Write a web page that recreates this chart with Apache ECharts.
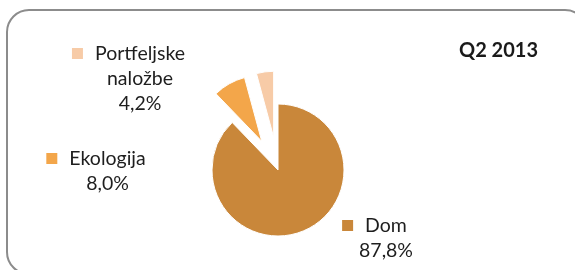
<!DOCTYPE html>
<html>
<head>
<meta charset="utf-8">
<script src="https://cdn.jsdelivr.net/npm/echarts@6/dist/echarts.min.js"></script>
<style>html,body{margin:0;padding:0;background:#fff}#c{width:575px;height:270px}</style>
</head>
<body>
<div id="c"></div>
<script>
const categories = ['Dom', 'Ekologija', 'Portfeljske naložbe'];
const values = [87.8, 8.0, 4.2];
const exploded = [false, true, true];
const colors = ['#C9873A', '#F3A64A', '#F7CBA7'];
const titleText = 'Q2 2013';

const FONT = 'Lato';
const labelPos = [[386, 213], [107.5, 146], [140, 41]];

function fmt(v) { return v.toFixed(1).replace('.', ',') + '%'; }

const sliceData = categories.map((name, i) => ({
  name: name,
  value: values[i],
  selected: exploded[i],
  itemStyle: { color: colors[i] }
}));

const labelData = categories.map((name, i) => {
  const words = name.split(' ');
  const first = '{m|}{g|}{t|' + words[0] + '}{g|}{h|}';
  const rest = words.slice(1).map(w => '{t|' + w + '}');
  const lines = [first].concat(rest).concat(['{t|' + fmt(values[i]) + '}']);
  return {
    name: name,
    value: values[i],
    label: {
      formatter: lines.join('\n'),
      rich: {
        m: { width: 11, height: 11, backgroundColor: colors[i], lineHeight: 25 },
        g: { width: 12, lineHeight: 25 },
        h: { width: 11, height: 11, lineHeight: 25 },
        t: { fontFamily: FONT, fontSize: 19.5, color: '#1e1e1e', lineHeight: 25 }
      }
    }
  };
});

const chart = echarts.init(document.getElementById('c'), null, { renderer: 'canvas' });
chart.setOption({
  animation: false,
  backgroundColor: '#fff',
  title: {
    text: titleText,
    right: 32,
    top: 36,
    textStyle: { fontFamily: FONT, fontWeight: 'bold', fontSize: 20, color: '#1a1a1a' }
  },
  graphic: [{
    type: 'rect',
    shape: { x: 7, y: 10, width: 580, height: 264, r: 22 },
    style: { fill: 'none', stroke: '#8c8c8c', lineWidth: 2 },
    silent: true
  }],
  series: [{
    type: 'pie',
    center: [278, 170],
    radius: 66,
    startAngle: 90,
    clockwise: true,
    selectedMode: 'multiple',
    selectedOffset: 33,
    itemStyle: { borderColor: '#fff', borderWidth: 1 },
    label: { show: false },
    labelLine: { show: false },
    emphasis: { disabled: true },
    silent: true,
    data: sliceData
  }, {
    type: 'pie',
    center: [278, 170],
    radius: 66,
    startAngle: 90,
    clockwise: true,
    selectedMode: false,
    avoidLabelOverlap: false,
    itemStyle: { color: 'rgba(0,0,0,0)', borderWidth: 0 },
    label: { show: true, position: 'outside', align: 'center' },
    labelLine: { show: false },
    labelLayout: function (p) {
      const pos = labelPos[p.dataIndex];
      return { x: pos[0], y: pos[1], align: 'center', verticalAlign: 'top' };
    },
    emphasis: { disabled: true },
    silent: true,
    data: labelData
  }]
});
</script>
</body>
</html>
